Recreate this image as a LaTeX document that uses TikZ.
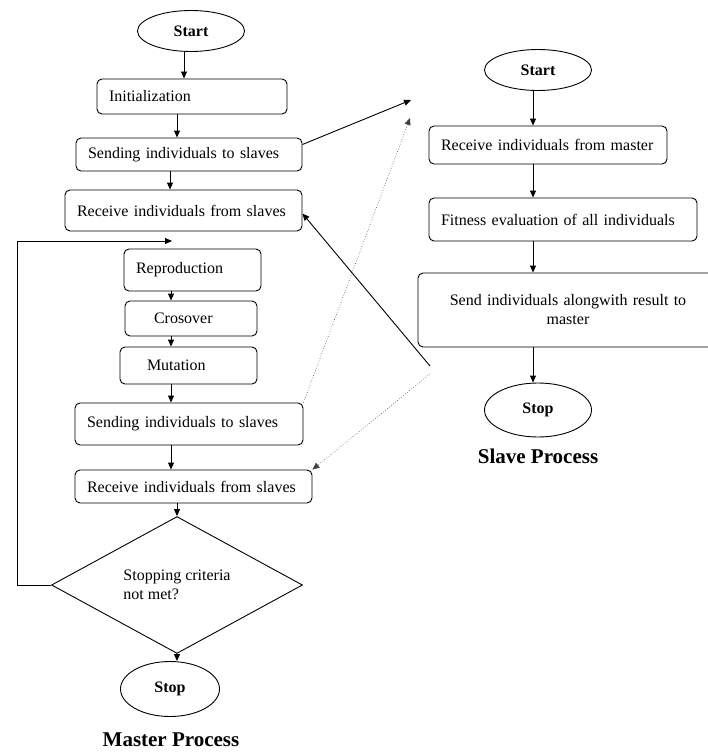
\documentclass[tikz,border=0pt]{standalone}
\usepackage{fontspec}
\setmainfont{Liberation Serif}
\usepackage{tikz}
\usetikzlibrary{arrows.meta,shapes.geometric}

\begin{document}
\begin{tikzpicture}[
    x=1pt,y=-1pt,
    font=\fontsize{16}{19}\selectfont,
    box/.style={draw,line width=0.9pt,rounded corners=5pt,align=left,inner xsep=12pt,inner ysep=0pt},
    oval/.style={draw,line width=0.9pt,ellipse,inner sep=0pt,minimum width=107pt,minimum height=41pt,font=\fontsize{16}{19}\selectfont\bfseries},
    decision/.style={draw,line width=0.9pt,diamond,inner sep=0pt,minimum width=251pt,minimum height=104pt,align=left},
    arr/.style={-{Triangle[length=7pt,width=6pt]},line width=0.9pt},
    darr/.style={-{Triangle[length=7pt,width=6pt]},dotted,line width=0.6pt,draw=black!75},
    ttl/.style={font=\fontsize{21}{24}\selectfont\bfseries}
  ]
  \useasboundingbox (0,0) rectangle (708,752);
  \node[oval] (mstart) at (191,31) {Start};
  \node[box,text width=166pt,minimum height=35pt] (init) at (192,96.5) {Initialization};
  \node[box,text width=202pt,minimum height=33pt] (send1) at (189,154.5) {Sending individuals to slaves};
  \node[box,text width=213pt,minimum height=41pt] (recv1) at (183.5,210.5) {Receive individuals from slaves};
  \node[box,text width=113pt,minimum height=42pt] (repro) at (192.5,270) {Reproduction};
  \node[box,inner xsep=29pt,text width=74pt,minimum height=35pt] (cross) at (191,318.5) {Crosover};
  \node[box,inner xsep=27pt,text width=83pt,minimum height=37pt] (mut) at (188.5,365.5) {Mutation};
  \node[box,text width=204pt,minimum height=42pt] (send2) at (189,424) {Sending individuals to slaves};
  \node[box,text width=213pt,minimum height=33pt] (recv2) at (193.5,486.5) {Receive individuals from slaves};
  \node[decision] (stopq) at (177,585) {Stopping criteria\\not met?};
  \node[oval,minimum width=99pt,minimum height=55pt] (mstop) at (170,689) {Stop};
  \node[ttl] (mlabel) at (171,740) {Master Process};

  \node[oval] (sstart) at (538,70) {Start};
  \node[box,text width=214pt,minimum height=38pt] (recvm) at (548,145) {Receive individuals from master};
  \node[box,text width=244pt,minimum height=43pt] (fit) at (563,219.5) {Fitness evaluation of all individuals};
  \node[box,align=center,text width=276pt,minimum height=74pt] (sendm) at (568,310) {Send individuals alongwith result to\\master};
  \node[oval,minimum height=54pt] (sstop) at (538,410) {Stop};
  \node[ttl] (slabel) at (538,456) {Slave Process};

  \coordinate (loop) at (172,241);
  \coordinate (tosl) at (411,100);
  \coordinate (tosl2) at (410,118);
  \coordinate (fromsl) at (430,366);
  \coordinate (fromsl2) at (430,374);

  \draw[arr] (mstart.south -| 184,0) -- (init.north -| 184,0);
  \draw[arr] (init.south -| 177,0) -- (send1.north -| 177,0);
  \draw[arr] (send1.south -| 170,0) -- (recv1.north -| 170,0);
  \draw[arr] (repro.south -| 171,0) -- (cross.north -| 171,0);
  \draw[arr] (cross.south -| 171,0) -- (mut.north -| 171,0);
  \draw[arr] (mut.south -| 171,0) -- (send2.north -| 171,0);
  \draw[arr] (send2.south -| 171,0) -- (recv2.north -| 171,0);
  \draw[arr] (recv2.south -| 177,0) -- (stopq.north);
  \draw[arr] (stopq.south) -- (mstop.north -| 177,0);
  \draw[arr] (stopq.west) -- ++(-34,0) |- (loop);

  \draw[arr] (sstart.south -| 533,0) -- (recvm.north -| 533,0);
  \draw[arr] (recvm.south -| 533,0) -- (fit.north -| 533,0);
  \draw[arr] (fit.south -| 533,0) -- (sendm.north -| 533,0);
  \draw[arr] (sendm.south -| 533,0) -- (sstop.north -| 533,0);

  \draw[arr] ([yshift=10pt]send1.east) -- (tosl);
  \draw[darr] (send2.north east) -- (tosl2);
  \draw[arr] (fromsl) -- ([yshift=-3pt]recv1.east);
  \draw[darr] (fromsl2) -- (recv2.north east);
\end{tikzpicture}
\end{document}
